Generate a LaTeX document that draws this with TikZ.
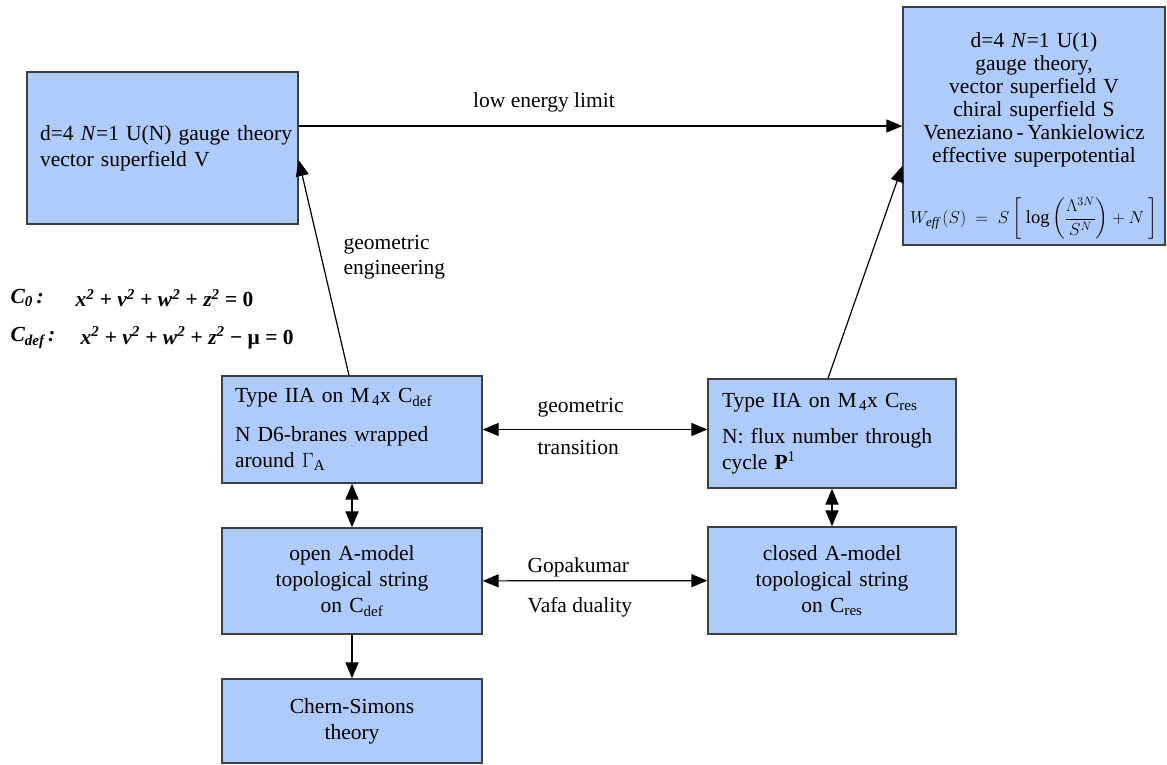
\documentclass[tikz,border=0pt]{standalone}
\usepackage{amsmath}
\usepackage{fontspec}
\setmainfont{Liberation Serif}
\usetikzlibrary{arrows.meta}

\definecolor{boxblue}{RGB}{175,203,250}
\newcommand{\sqv}[1]{\textit{#1}\textsuperscript{2}}

\begin{document}
\begin{tikzpicture}[x=1pt,y=-1pt,>={Triangle[length=16pt,width=13pt]},line width=1.2pt,
  box/.style={draw=black!75,fill=boxblue,line width=1.3pt,inner xsep=13pt,inner ysep=0pt,
    font=\fontsize{21.5}{26}\selectfont},
  lbl/.style={inner sep=0pt,align=left,font=\fontsize{21.5}{25}\selectfont},
  eqn/.style={inner sep=0pt,anchor=west,font=\fontsize{21.5}{25}\selectfont\bfseries\itshape}]
\useasboundingbox (0,0) rectangle (1167,764);

\node[box,minimum height=152pt,text width=245pt,align=left] (gaugeUN) at (162.5,148)
  {\mbox{d=4 \textit{N}=1 U(N) gauge theory}\\vector superfield V};
\node[box,minimum height=238pt,text width=250pt,inner xsep=6pt,align=center,
  font=\fontsize{21.5}{23}\selectfont] (gaugeU1) at (1034,126)
  {\rule{0pt}{35pt}d=4 \textit{N}=1 U(1)\\gauge theory,\\vector superfield V\\chiral superfield S\\
   Veneziano\,-\,Yankielowicz\\effective superpotential\\[29pt]
   \mbox{\fontsize{18.5}{23}\selectfont$W_{\mathit{eff}}\,(S)\;=\;S\left[\;\log\left(\dfrac{\Lambda^{3N}}{S^{N}}\right)+N\;\right]$}};
\node[box,minimum height=107pt,text width=234pt,align=left] (iiadef) at (352,429.5)
  {Type IIA on M\textsubscript{\,4}x C\textsubscript{def}\\[13pt]N D6-branes wrapped\\around $\Gamma$\textsubscript{A}};
\node[box,minimum height=109pt,text width=220pt,inner xsep=14pt,align=left] (iiares) at (832,433.5)
  {Type IIA on M\textsubscript{\,4}x C\textsubscript{res}\\[10pt]N: flux number through\\cycle \textbf{P}\textsuperscript{1}};
\node[box,minimum height=106pt,text width=234pt,align=center] (openA) at (352,581)
  {open A-model\\topological string\\on C\textsubscript{def}};
\node[box,minimum height=107pt,text width=222pt,align=center] (closedA) at (832,580.5)
  {closed A-model\\topological string\\on C\textsubscript{res}};
\node[box,minimum height=84pt,text width=234pt,align=center] (chern) at (352,721)
  {Chern-Simons\\theory};

\node[eqn] (czero) at (10,298) {C\textsubscript{0}\,:};
\node[eqn] (czeroeq) at (75,298) {\sqv{x} \textup{+} \sqv{v} \textup{+} \sqv{w} \textup{+} \sqv{z} \textup{=} \textup{0}};
\node[eqn] (cdef) at (10,338) {C\textsubscript{def}\,:};
\node[eqn] (cdefeq) at (80,338) {\sqv{x} \textup{+} \sqv{v} \textup{+} \sqv{w} \textup{+} \sqv{z} \textup{−} \textup{μ} \textup{=} \textup{0}};

\node[lbl] (lowlbl) at (544,102) {low energy limit};
\node[lbl,anchor=west] (englbl) at (343,257) {geometric\\engineering};
\node[lbl,anchor=west] (geolbl) at (537,408) {geometric};
\node[lbl,anchor=west] (translbl) at (537,447) {transition};
\node[lbl,anchor=west] (gopalbl) at (527,567) {Gopakumar};
\node[lbl,anchor=west] (vafalbl) at (527,607) {Vafa duality};

\draw[->] (gaugeUN.east |- gaugeU1.west) -- (gaugeU1.west);
\draw[->] ([xshift=-3pt]iiadef.north) -- ([yshift=-12pt]gaugeUN.east);
\draw[->] ([xshift=-4pt]iiares.north) -- ([yshift=-40pt]gaugeU1.west);
\draw[<->] (iiadef.east) -- (iiadef.east -| iiares.west);
\draw[<->] (openA) -- (closedA);
\draw[<->] (iiadef) -- (openA);
\draw[<->] (iiares) -- (closedA);
\draw[->] (openA) -- (chern);
\end{tikzpicture}
\end{document}
